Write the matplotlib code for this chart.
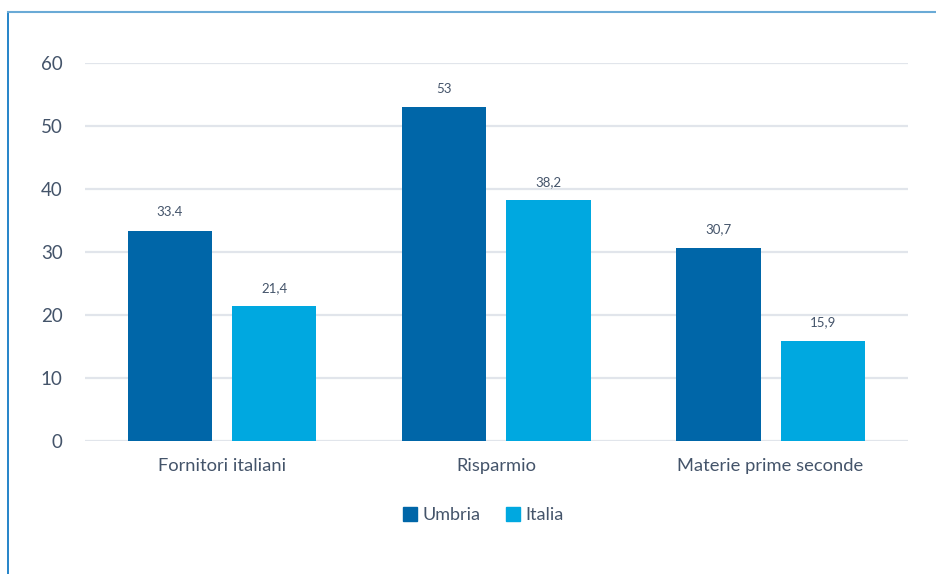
import numpy as np
import matplotlib.pyplot as plt
from matplotlib.lines import Line2D

categories = ['Fornitori italiani', 'Risparmio', 'Materie prime seconde']
umbria = [33.4, 53, 30.7]
italia = [21.4, 38.2, 15.9]
umbria_labels = ['33.4', '53', '30,7']
italia_labels = ['21,4', '38,2', '15,9']

text_col = '#44546a'
c_umbria = '#0066a8'
c_italia = '#00a8e0'

plt.rcParams['font.family'] = ['Lato', 'DejaVu Sans']

fig = plt.figure(figsize=(9.36, 5.74), dpi=100)
ax = fig.add_axes([0.0908, 0.2317, 0.879, 0.6585])

x = np.arange(len(categories))
w = 0.307
off = 0.19
b1 = ax.bar(x - off, umbria, w, color=c_umbria, zorder=3)
b2 = ax.bar(x + off, italia, w, color=c_italia, zorder=3)

for bars, labs in [(b1, umbria_labels), (b2, italia_labels)]:
    for b, lab in zip(bars, labs):
        ax.annotate(lab, (b.get_x() + b.get_width() / 2, b.get_height()),
                    xytext=(0, 9), textcoords='offset points',
                    ha='center', va='bottom', fontsize=9.5, color=text_col)

ax.set_xlim(-0.5, 2.5)
ax.set_ylim(0, 60)
ax.set_yticks(range(0, 61, 10))
ax.set_xticks(x)
ax.set_xticklabels(categories, fontsize=13.2, color=text_col)
ax.tick_params(axis='y', labelsize=13.5, labelcolor=text_col, length=0, pad=16)
ax.tick_params(axis='x', length=0, pad=12)
ax.grid(axis='y', color='#e1e5eb', linewidth=1.6, zorder=0)
for s in ax.spines.values():
    s.set_visible(False)

handles = [Line2D([], [], marker='s', linestyle='', markersize=10, color=c_umbria),
           Line2D([], [], marker='s', linestyle='', markersize=10, color=c_italia)]
fig.legend(handles, ['Umbria', 'Italia'], loc='center', bbox_to_anchor=(0.515, 0.103),
           ncol=2, frameon=False, fontsize=13, labelcolor=text_col,
           handletextpad=0.2, columnspacing=1.3, handlelength=1)

# frame lines at left and top
fig.add_artist(Line2D([0.009, 0.009], [0, 0.979], color='#0070c0', linewidth=1.2))
fig.add_artist(Line2D([0.009, 1.0], [0.979, 0.979], color='#6aaad6', linewidth=1.5))

fig.savefig('out.png', dpi=100)
